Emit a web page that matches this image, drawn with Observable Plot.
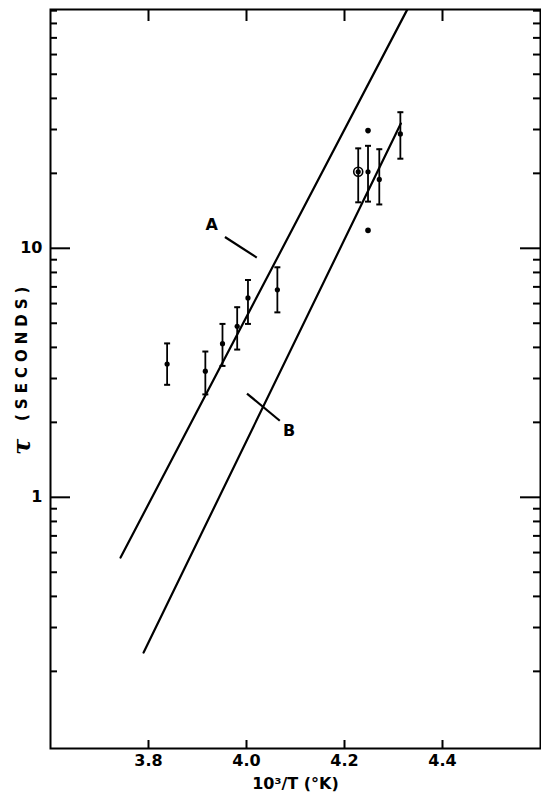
<!DOCTYPE html>
<html>
<head>
<meta charset="utf-8">
<script src="https://cdn.jsdelivr.net/npm/d3@7"></script>
<script src="https://cdn.jsdelivr.net/npm/@observablehq/plot@0.6"></script>
<style>
  html, body { margin: 0; padding: 0; background: #fff; overflow: hidden; }
</style>
</head>
<body>
<div id="chart"></div>
<script>
// x = 10^3/T (1/K), tau in seconds
const ptX    = [3.838, 3.916, 3.951, 3.981, 4.003, 4.063, 4.228, 4.248, 4.271, 4.314];
const ptTau  = [3.43, 3.21, 4.14, 4.86, 6.32, 6.81, 20.3, 20.3, 18.9, 28.8];
const ptHi   = [4.15, 3.85, 4.97, 5.80, 7.46, 8.39, 25.2, 25.8, 25.0, 35.2];
const ptLo   = [2.83, 2.59, 3.37, 3.92, 4.97, 5.53, 15.3, 15.4, 15.0, 22.9];
const ptOpen = [false, false, false, false, false, false, true, false, false, false];

// single points without error bars
const singleX   = [4.248, 4.248];
const singleTau = [29.7, 11.8];

// fitted lines A and B (end points)
const lineAX = [3.743, 4.328];
const lineAY = [0.573, 90.9];
const lineBX = [3.790, 4.315];
const lineBY = [0.238, 31.7];

// labels and leader lines
const labelText = ["A", "B"];
const labelX    = [3.929, 4.087];
const labelY    = [12.45, 1.853];
const leadX1    = [3.956, 4.001];
const leadY1    = [11.1, 2.61];
const leadX2    = [4.021, 4.068];
const leadY2    = [9.18, 2.03];

// axes
const xTicks  = [3.8, 4.0, 4.2, 4.4];
const xTickLabels = ["3.8", "4.0", "4.2", "4.4"];
const yMajor  = [1, 10];
const yMajorLabels = ["1", "10"];
const yMinor  = [0.2,0.3,0.4,0.5,0.6,0.7,0.8,0.9, 2,3,4,5,6,7,8,9, 20,30,40,50,60,70,80,90];
const xDomain = [3.6, 4.6];
const yDomain = [0.098, 91];
const xTitle = "10³/T (°K)";
const yTitleSymbol = "τ";
const yTitle = "(SECONDS)";

const points = ptX.map((x, i) => ({x, tau: ptTau[i], hi: ptHi[i], lo: ptLo[i], open: ptOpen[i]}));
const singles = singleX.map((x, i) => ({x, tau: singleTau[i]}));
const lines = [
  ...lineAX.map((x, i) => ({x, y: lineAY[i], line: "A"})),
  ...lineBX.map((x, i) => ({x, y: lineBY[i], line: "B"}))
];
const labels = labelText.map((t, i) => ({t, x: labelX[i], y: labelY[i], x1: leadX1[i], y1: leadY1[i], x2: leadX2[i], y2: leadY2[i]}));
const yLab = yMajor.map((v, i) => ({v, t: yMajorLabels[i]}));

const W = 541, H = 800;
const mL = 50, mR = 1, mT = 9, mB = 52;
const pw = W - mL - mR, ph = H - mT - mB;

const capSymbol = {
  draw(context, size) {
    const w = Math.sqrt(size / Math.PI);
    context.moveTo(-w, 0);
    context.lineTo(w, 0);
  }
};

const chart = Plot.plot({
  width: W,
  height: H,
  marginLeft: mL, marginRight: mR, marginTop: mT, marginBottom: mB,
  style: {fontFamily: "'DejaVu Sans', sans-serif", fontSize: "15px", fontWeight: "bold", color: "#000", background: "#fff"},
  x: {domain: xDomain, axis: null},
  y: {type: "log", domain: yDomain, axis: null},
  marks: [
    Plot.frame({stroke: "#000", strokeWidth: 2}),
    // bottom ticks (inward)
    Plot.tickX(xTicks, {x: d => d, insetTop: ph - 8, stroke: "#000", strokeWidth: 2}),
    // top ticks (inward)
    Plot.tickX(xTicks, {x: d => d, insetBottom: ph - 12, stroke: "#000", strokeWidth: 2}),
    // left ticks
    Plot.tickY(yMajor, {y: d => d, insetRight: pw - 20, stroke: "#000", strokeWidth: 2}),
    Plot.tickY(yMinor, {y: d => d, insetRight: pw - 7, stroke: "#000", strokeWidth: 2}),
    // right ticks
    Plot.tickY(yMajor, {y: d => d, insetLeft: pw - 20, stroke: "#000", strokeWidth: 2}),
    Plot.tickY(yMinor, {y: d => d, insetLeft: pw - 7, stroke: "#000", strokeWidth: 2}),
    // axis labels
    Plot.text(xTicks, {x: d => d, frameAnchor: "bottom", dy: 17, text: (d, i) => xTickLabels[i], fontSize: 16, fontWeight: "bold", fill: "#000"}),
    Plot.text(yLab, {y: "v", frameAnchor: "left", dx: -8, textAnchor: "end", text: "t", fontSize: 16, fontWeight: "bold", fill: "#000"}),
    Plot.text([xTitle], {frameAnchor: "bottom", dy: 40, text: d => d, fontSize: 16, fontWeight: "bold", fill: "#000"}),
    Plot.text([yTitle], {frameAnchor: "left", dx: -28, dy: 42, rotate: -90, textAnchor: "start", text: d => d, fontSize: 15, fontWeight: "bold", fill: "#000"}),
    Plot.text([yTitleSymbol], {frameAnchor: "left", dx: -28, dy: 76, rotate: -90, text: d => d, fontSize: 24, fontWeight: "bold", fontStyle: "italic", fontFamily: "'DejaVu Serif', serif", fill: "#000"}),
    // fitted lines
    Plot.line(lines, {x: "x", y: "y", z: "line", stroke: "#000", strokeWidth: 2.2, clip: true}),
    // label leaders and text
    Plot.link(labels, {x1: "x1", y1: "y1", x2: "x2", y2: "y2", stroke: "#000", strokeWidth: 2.2}),
    Plot.text(labels, {x: "x", y: "y", text: "t", fontSize: 16, fontWeight: "bold", fill: "#000"}),
    // error bars
    Plot.ruleX(points, {x: "x", y1: "lo", y2: "hi", stroke: "#000", strokeWidth: 1.8}),
    Plot.dot(points, {x: "x", y: "hi", symbol: capSymbol, r: 3, stroke: "#000", strokeWidth: 2}),
    Plot.dot(points, {x: "x", y: "lo", symbol: capSymbol, r: 3, stroke: "#000", strokeWidth: 2}),
    // points
    Plot.dot(points, {x: "x", y: "tau", r: 2.6, fill: "#000"}),
    Plot.dot(points.filter(d => d.open), {x: "x", y: "tau", r: 4.5, stroke: "#000", strokeWidth: 1.6, fill: "none"}),
    Plot.dot(singles, {x: "x", y: "tau", r: 2.8, fill: "#000"})
  ]
});
// spread the letters of the y title as in the original lettering
d3.select(chart).selectAll("text").filter(function() { return this.textContent === yTitle; })
  .attr("letter-spacing", "5px");
document.getElementById("chart").appendChild(chart);
</script>
</body>
</html>
